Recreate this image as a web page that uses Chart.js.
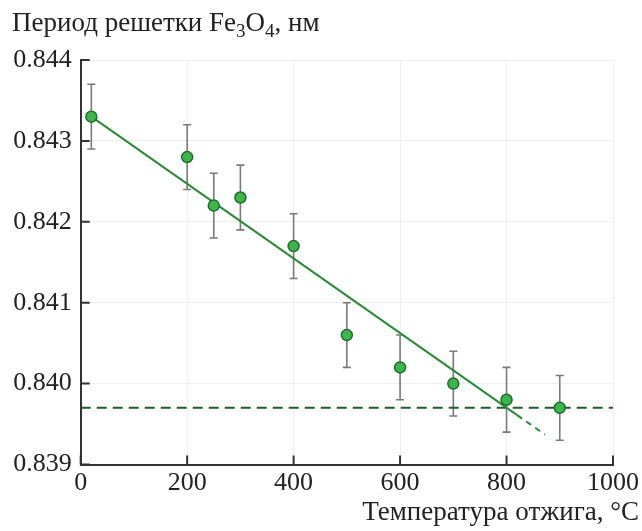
<!DOCTYPE html>
<html>
<head>
<meta charset="utf-8">
<script src="https://cdn.jsdelivr.net/npm/chart.js@4.4.1/dist/chart.umd.min.js"></script>
<style>
  html, body { margin: 0; padding: 0; background: #fff; }
  #wrap { width: 642px; height: 531px; }
</style>
</head>
<body>
<div id="wrap"><canvas id="latticeChart" width="642" height="531"></canvas></div>
<script>
// температура отжига, °C и период решетки, нм
const temps = [20, 200, 250, 300, 400, 500, 600, 700, 800, 900];
const periods = [0.8433, 0.8428, 0.8422, 0.8423, 0.8417, 0.8406, 0.8402, 0.8400, 0.8398, 0.8397];
const errors = [0.0004, 0.0004, 0.0004, 0.0004, 0.0004, 0.0004, 0.0004, 0.0004, 0.0004, 0.0004];

// линейная аппроксимация (сплошная часть и продолжение пунктиром)
const fitX = [20, 820];
const fitY = [0.8433, 0.83961];
const fitExtX = [820, 872];
const fitExtY = [0.83961, 0.83937];

// уровень насыщения
const levelX = [0, 1000];
const levelY = [0.8397, 0.8397];

const xTicks = [0, 200, 400, 600, 800, 1000];
const yTicks = [0.839, 0.840, 0.841, 0.842, 0.843, 0.844];

const serif = '"Liberation Serif", "DejaVu Serif", serif';
const toXY = (xs, ys) => xs.map((x, i) => ({ x: x, y: ys[i] }));

// усы погрешностей, засечки внутрь и подписи осей
const decorPlugin = {
    id: 'decor',
    beforeDatasetsDraw(chart) {
        const ctx = chart.ctx;
        const xs = chart.scales.x, ys = chart.scales.y;
        ctx.save();
        ctx.strokeStyle = '#7a7a7a';
        ctx.lineWidth = 1.6;
        temps.forEach((t, i) => {
            const px = xs.getPixelForValue(t);
            const top = ys.getPixelForValue(periods[i] + errors[i]);
            const bot = ys.getPixelForValue(periods[i] - errors[i]);
            ctx.beginPath();
            ctx.moveTo(px, top); ctx.lineTo(px, bot);
            ctx.moveTo(px - 4, top); ctx.lineTo(px + 4, top);
            ctx.moveTo(px - 4, bot); ctx.lineTo(px + 4, bot);
            ctx.stroke();
        });
        ctx.restore();
    },
    afterDraw(chart) {
        const ctx = chart.ctx;
        const area = chart.chartArea;
        const xs = chart.scales.x, ys = chart.scales.y;
        ctx.save();
        ctx.strokeStyle = '#333';
        ctx.lineWidth = 2;
        ctx.beginPath();
        yTicks.forEach(v => {
            const py = ys.getPixelForValue(v);
            ctx.moveTo(area.left, py); ctx.lineTo(area.left + 9, py);
        });
        xTicks.forEach(v => {
            const px = xs.getPixelForValue(v);
            ctx.moveTo(px, area.bottom); ctx.lineTo(px, area.bottom - 9);
        });
        ctx.stroke();

        ctx.fillStyle = '#222';
        ctx.textBaseline = 'alphabetic';
        // Период решетки Fe3O4, нм
        let x = 12;
        const base = 31;
        const parts = [['Период решетки Fe', 0], ['3', 1], ['O', 0], ['4', 1], [', нм', 0]];
        parts.forEach(([txt, sub]) => {
            ctx.font = (sub ? '19px ' : '27px ') + serif;
            ctx.fillText(txt, x, base + (sub ? 6 : 0));
            x += ctx.measureText(txt).width;
        });
        ctx.font = '27px ' + serif;
        ctx.textAlign = 'right';
        ctx.fillText('Температура отжига, °C', 639, 520);
        ctx.restore();
    }
};

const ctx = document.getElementById('latticeChart').getContext('2d');
new Chart(ctx, {
    type: 'scatter',
    data: {
        datasets: [
            {
                label: 'level', data: toXY(levelX, levelY), showLine: true,
                borderColor: '#1f5f2c', borderWidth: 2, borderDash: [10, 6],
                pointRadius: 0, order: 4
            },
            {
                label: 'fit', data: toXY(fitX, fitY), showLine: true,
                borderColor: '#2b8a3a', borderWidth: 2,
                pointRadius: 0, order: 3
            },
            {
                label: 'fitExt', data: toXY(fitExtX, fitExtY), showLine: true,
                borderColor: '#2b8a3a', borderWidth: 2, borderDash: [6, 5],
                pointRadius: 0, order: 2
            },
            {
                label: 'period', data: toXY(temps, periods),
                backgroundColor: '#3cb64a', borderColor: '#1d6e2a', borderWidth: 1.5,
                pointRadius: 5.5, order: 1
            }
        ]
    },
    options: {
        responsive: false,
        animation: false,
        layout: { padding: { top: 60, right: 29, bottom: 0, left: 0 } },
        plugins: { legend: { display: false }, tooltip: { enabled: false } },
        scales: {
            x: {
                type: 'linear', min: 0, max: 1000,
                afterFit: s => { s.height = 66.5; },
                afterBuildTicks: s => { s.ticks = xTicks.map(v => ({ value: v })); },
                border: { display: true, color: '#333', width: 2 },
                grid: { color: '#f0f0f0', lineWidth: 1, drawTicks: false },
                ticks: {
                    color: '#222', padding: 3, font: { family: serif, size: 26 },
                    callback: v => String(v)
                }
            },
            y: {
                type: 'linear', min: 0.839, max: 0.844,
                afterFit: s => { s.width = 80.7; },
                afterBuildTicks: s => { s.ticks = yTicks.map(v => ({ value: v })); },
                border: { display: true, color: '#333', width: 2 },
                grid: { color: '#f0f0f0', lineWidth: 1, drawTicks: false },
                ticks: {
                    color: '#222', padding: 9, font: { family: serif, size: 26 },
                    callback: v => v.toFixed(3)
                }
            }
        }
    },
    plugins: [decorPlugin]
});
</script>
</body>
</html>
